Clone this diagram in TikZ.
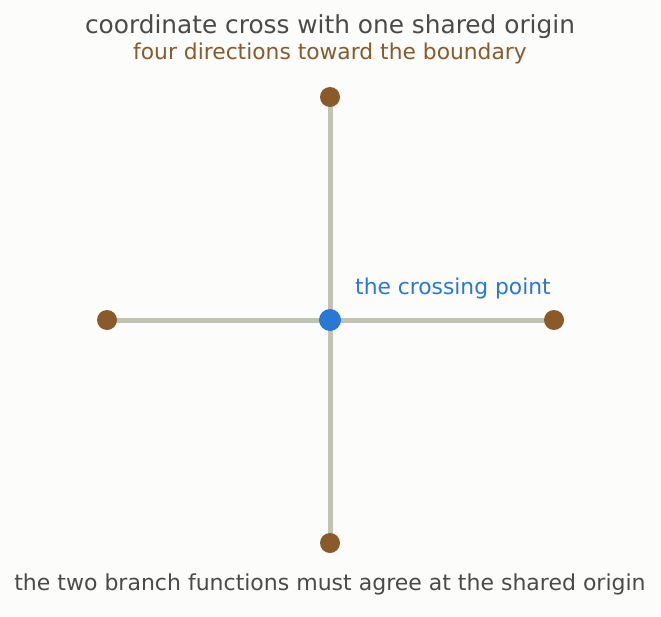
\documentclass[tikz,border=0pt]{standalone}
\usepackage{fontspec}
\setmainfont{DejaVu Sans}
\usetikzlibrary{positioning, calc}
\definecolor{inkgray}{HTML}{4A4A4A}
\definecolor{axisgray}{HTML}{C2C2B4}
\definecolor{tipbrown}{HTML}{8B5A2B}
\definecolor{originblue}{HTML}{2A78D6}
\definecolor{paper}{HTML}{FCFCFA}
\tikzset{
    axis/.style={draw=axisgray, line width=5pt},
    tip/.style={circle, fill=tipbrown, inner sep=0pt, minimum size=20pt},
    origin/.style={circle, fill=originblue, inner sep=0pt, minimum size=22pt},
}

\begin{document}
\begin{tikzpicture}[x=1pt, y=-1pt]
        \fill[paper] (0, 0) rectangle (661, 616);
        \useasboundingbox (0, 0) rectangle (661, 616);
        \path (330, 33) node[anchor=base, text=inkgray, font=\fontsize{24.8}{28}\selectfont](Title){coordinate cross with one shared origin};
        \path (330, 59) node[anchor=base, text=tipbrown, font=\fontsize{21.8}{26}\selectfont](Subtitle){four directions toward the boundary};
        \path (330, 590) node[anchor=base, text=inkgray, font=\fontsize{22}{26}\selectfont](Note){the two branch functions must agree at the shared origin};
        \path (330, 97) coordinate (Top);
        \path (330, 543) coordinate (Bottom);
        \path (107, 320) coordinate (Left);
        \path (554, 320) coordinate (Right);
        \path (330, 320) coordinate (Origin);
        \draw[axis] (Top) -- (Bottom);
        \draw[axis] (Left) -- (Right);
        \path (Top) node[tip](TopDot){};
        \path (Bottom) node[tip](BottomDot){};
        \path (Left) node[tip](LeftDot){};
        \path (Right) node[tip](RightDot){};
        \path (Origin) node[origin](Cross){};
        \path (355, 294) node[anchor=base west, inner sep=0pt, text=originblue, font=\fontsize{21.8}{26}\selectfont](Label){the crossing point};
    \end{tikzpicture}
\end{document}
